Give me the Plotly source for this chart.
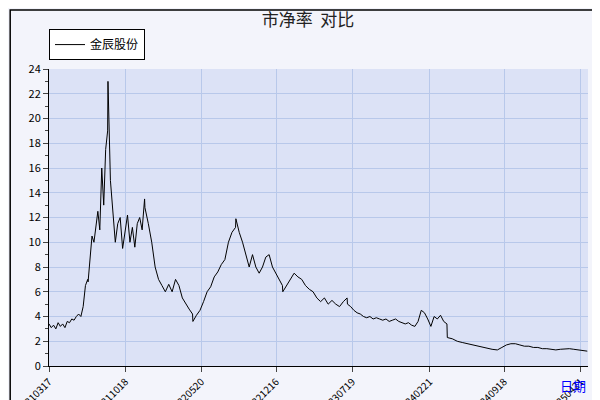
import pandas as pd
import plotly.graph_objs as go

# segments: (start date, end date, values evenly spread in between)
seg_starts = ['2021-03-17', '2021-07-05', '2021-08-30', '2021-12-12', '2022-04-26',
              '2022-08-25', '2023-01-04', '2023-07-05', '2024-04-11', '2024-08-30']
seg_ends = ['2021-07-04', '2021-08-29', '2021-12-11', '2022-04-25', '2022-08-24',
            '2023-01-03', '2023-07-04', '2024-04-10', '2024-08-29', '2025-05-10']
seg_values = [
    [3.4, 3.1, 3.3, 3.0, 3.5, 3.2, 3.4, 3.1, 3.6, 3.5, 3.8, 3.7, 4.0, 4.2, 4.0, 4.8, 6.5, 7.0],
    [6.8, 8.5, 10.5, 10.0, 11.5, 12.5, 11.0, 16.0, 13.0, 17.5, 19.0],
    [23.0, 15.0, 12.5, 10.0, 11.5, 12.0, 9.5, 11.0, 12.2, 10.0, 11.2, 9.6, 11.5, 12.0, 11.0, 13.5],
    [12.8, 11.5, 10.0, 8.0, 7.0, 6.5, 6.0, 6.6, 6.0, 7.0, 6.5, 5.5, 5.0, 4.6, 4.2],
    [3.6, 4.1, 4.5, 5.2, 6.0, 6.4, 7.2, 7.6, 8.2, 8.6, 10.0, 10.8, 11.2],
    [11.9, 10.8, 10.0, 9.0, 8.0, 9.0, 8.0, 7.5, 8.0, 8.8, 9.0, 8.0, 7.5, 7.0, 6.5],
    [6.0, 6.5, 7.0, 7.5, 7.2, 7.0, 6.5, 6.2, 6.0, 5.5, 5.2, 5.5, 5.0, 5.3, 5.0, 4.8, 5.2, 5.5],
    [5.0, 4.8, 4.5, 4.3, 4.2, 4.0, 3.9, 4.0, 3.8, 3.9, 3.8, 3.7, 3.8, 3.6, 3.7, 3.8, 3.6, 3.5,
     3.4, 3.5, 3.3, 3.2, 3.6, 4.5, 4.3, 3.8, 3.2, 4.0, 3.8, 4.1, 3.6, 3.4],
    [2.3, 2.2, 2.0, 1.9, 1.8, 1.7, 1.6, 1.5, 1.4, 1.35, 1.3],
    [1.3, 1.5, 1.7, 1.8, 1.8, 1.7, 1.6, 1.6, 1.5, 1.5, 1.4, 1.4, 1.35, 1.3, 1.35, 1.4, 1.4,
     1.35, 1.3, 1.25, 1.2],
]
tick_dates = ['2021-03-17', '2021-10-18', '2022-05-20', '2022-12-16',
              '2023-07-19', '2024-02-21', '2024-09-18', '2025-04-21']
tick_text = ['20210317', '20211018', '20220520', '20221216',
             '20230719', '20240221', '20240918', '20250421']

dates = []
values = []
for s, e, v in zip(seg_starts, seg_ends, seg_values):
    dates += list(pd.date_range(s, e, periods=len(v)))
    values += v

fig = go.Figure()
fig.add_trace(go.Scatter(x=dates, y=values, mode='lines', name='金辰股份',
                         line=dict(color='black', width=1)))

fig.update_layout(
    width=600, height=400,
    margin=dict(l=41, r=20, t=61, b=42, autoexpand=False),
    paper_bgcolor='#f3f4fb', plot_bgcolor='#dce2f6',
    font=dict(family='Noto Sans CJK SC', size=11, color='black'),
    title=dict(text='市净率  对比', x=0.5, y=0.985, xanchor='center', yanchor='top',
               font=dict(size=17, color='#222')),
    showlegend=True,
    legend=dict(x=0.0, y=1.03, xanchor='left', yanchor='bottom', bgcolor='white',
                bordercolor='black', borderwidth=1, font=dict(size=12),
                itemwidth=30, tracegroupgap=0),
    xaxis=dict(range=['2021-03-17', '2025-05-12'], tickvals=tick_dates, ticktext=tick_text,
               tickangle=-45, tickfont=dict(size=10), showgrid=True, gridcolor='#b8c8ea',
               ticks='outside', ticklen=5, showline=True, linecolor='black',
               automargin=False),
    yaxis=dict(range=[0, 24], dtick=2, showgrid=True, gridcolor='#b8c8ea',
               ticks='outside', ticklen=5, showline=True, linecolor='black',
               tickfont=dict(size=11), automargin=False,
               minor=dict(dtick=1, ticks='outside', ticklen=3, showgrid=False)),
    shapes=[
        dict(type='rect', xref='paper', yref='paper', x0=-0.072, x1=1.03, y0=-0.128, y1=1.199,
             line=dict(color='black', width=1.5)),
    ],
    annotations=[
        dict(text='日期', xref='paper', yref='paper', x=1.0, y=-0.067, showarrow=False,
             font=dict(color='blue', size=13), xanchor='right', yanchor='middle'),
    ],
)

fig.write_html('out.html')
